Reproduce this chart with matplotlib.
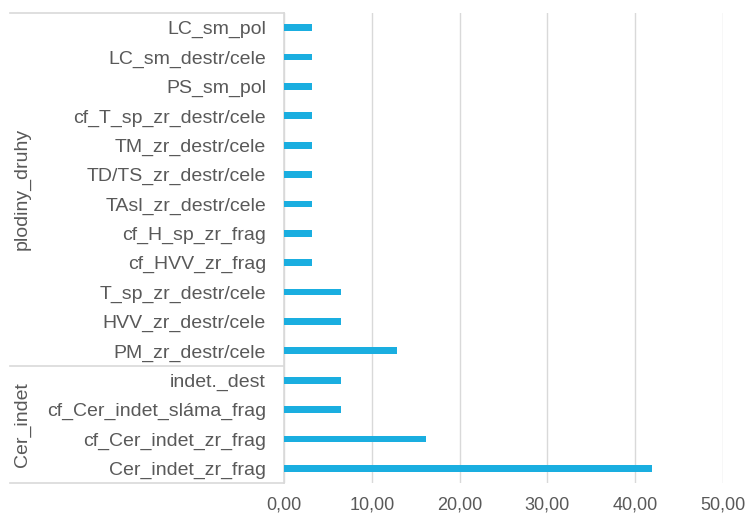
import matplotlib.pyplot as plt
import matplotlib.transforms as mtransforms

plt.rcParams['font.family'] = ['Liberation Sans', 'DejaVu Sans']

# categories from top to bottom, with their group
labels = ["LC_sm_pol", "LC_sm_destr/cele", "PS_sm_pol", "cf_T_sp_zr_destr/cele",
          "TM_zr_destr/cele", "TD/TS_zr_destr/cele", "TAsl_zr_destr/cele",
          "cf_H_sp_zr_frag", "cf_HVV_zr_frag", "T_sp_zr_destr/cele",
          "HVV_zr_destr/cele", "PM_zr_destr/cele",
          "indet._dest", "cf_Cer_indet_sláma_frag", "cf_Cer_indet_zr_frag",
          "Cer_indet_zr_frag"]
values = [3.23, 3.23, 3.23, 3.23, 3.23, 3.23, 3.23, 3.23, 3.23, 6.45,
          6.45, 12.90, 6.45, 6.45, 16.13, 41.94]
groups = ["plodiny_druhy", "Cer_indet"]
group_sizes = [12, 4]
xticks = [0, 10, 20, 30, 40, 50]

txt = '#595959'
line = '#d9d9d9'

fig = plt.figure(figsize=(7.49, 5.18), dpi=100)
ax = fig.add_axes([284/749, 1 - 483/518, (723 - 284)/749, 470/518])

n = len(labels)
ypos = [n - 1 - i for i in range(n)]
ax.barh(ypos, values, height=0.23, color='#1AAEE0', zorder=3)

ax.set_xlim(0, 50)
ax.set_ylim(-0.5, n - 0.5)
ax.set_xticks(xticks)
ax.set_xticklabels(["%d,00" % t for t in xticks], fontsize=13, color=txt)
ax.set_yticks(ypos)
ax.set_yticklabels(labels, fontsize=14, color=txt)
ax.tick_params(axis='both', length=0)
ax.tick_params(axis='x', pad=10)
ax.tick_params(axis='y', pad=13)
ax.grid(axis='x', color=line, linewidth=1, zorder=0)
for s in ['top', 'right', 'bottom']:
    ax.spines[s].set_visible(False)
ax.spines['left'].set_color(line)
ax.spines['left'].set_linewidth(1.2)

# group brackets
trans = mtransforms.blended_transform_factory(ax.transAxes, ax.transData)
x0 = (10 - 284) / 439
start = n - 0.5
bounds = [start]
for g, size in zip(groups, group_sizes):
    end = start - size
    bounds.append(end)
    ax.text((22 - 284) / 439, (start + end) / 2, g, transform=trans, rotation=90,
            ha='center', va='center', fontsize=14, color=txt)
    start = end
for b in bounds:
    ax.plot([x0, 0], [b, b], transform=trans, color=line, linewidth=1.2, clip_on=False)

fig.savefig('out.png', dpi=100)
